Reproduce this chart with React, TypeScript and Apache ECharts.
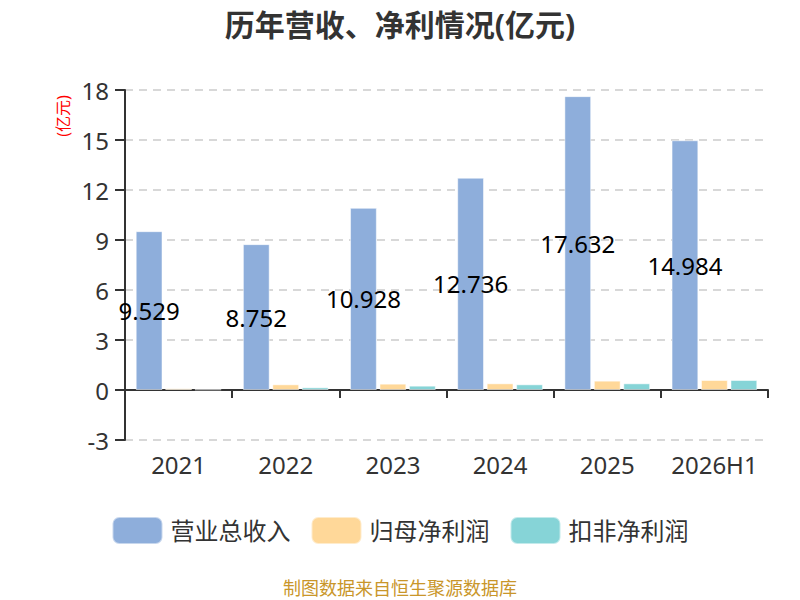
import React, { useEffect, useRef } from "react";
import * as echarts from "echarts";

const categories = ["2021", "2022", "2023", "2024", "2025", "2026H1"];
const revenue = [9.529, 8.752, 10.928, 12.736, 17.632, 14.984];
const netProfit = [0.1, 0.34, 0.38, 0.4, 0.56, 0.6];
const deductedProfit = [0.03, 0.16, 0.26, 0.34, 0.4, 0.6];
const seriesNames = ["营业总收入", "归母净利润", "扣非净利润"];
const colors = ["#8EAEDB", "#FFD899", "#86D4D7"];

export default function App() {
  const ref = useRef<HTMLDivElement>(null);
  useEffect(() => {
    document.body.style.margin = "0";
    if (!ref.current) return;
    const chart = echarts.init(ref.current, null, { renderer: "svg" });
    const font = "'Noto Sans', 'Noto Sans CJK SC', sans-serif";
    chart.setOption({
      animation: false,
      textStyle: { fontFamily: font },
      title: {
        text: "历年营收、净利情况(亿元)",
        left: "center",
        top: 4,
        textStyle: { fontSize: 30, fontWeight: "bold", color: "#333", fontFamily: font },
      },
      legend: {
        data: seriesNames,
        bottom: 50,
        left: "center",
        itemWidth: 50,
        itemHeight: 27,
        itemGap: 20,
        icon: "roundRect",
        textStyle: { fontSize: 24, color: "#333", fontFamily: font, padding: [0, 0, 0, 3] },
      },
      graphic: [
        {
          type: "text",
          left: "center",
          top: 579,
          style: { text: "制图数据来自恒生聚源数据库", fill: "#C9962A", fontSize: 18, fontFamily: font },
        },
        {
          type: "text",
          x: 63,
          y: 116,
          rotation: Math.PI / 2,
          style: { text: "(亿元)", fill: "#ff0000", fontSize: 16, fontFamily: font, align: "center", verticalAlign: "middle" },
        },
      ],
      grid: { left: 125, right: 32, top: 90, bottom: 160, containLabel: false },
      xAxis: {
        type: "category",
        data: categories,
        axisLine: { onZero: true, lineStyle: { color: "#333", width: 2 } },
        axisTick: { show: true, interval: 0, length: 8, lineStyle: { color: "#333", width: 2 } },
        axisLabel: { interval: 0, fontSize: 24, color: "#333", margin: 12, fontFamily: font },
      },
      yAxis: {
        type: "value",
        min: -3,
        max: 18,
        interval: 3,
        axisLine: { show: true, lineStyle: { color: "#333", width: 2 } },
        axisTick: { show: true, length: 10, lineStyle: { color: "#333", width: 2 } },
        axisLabel: { fontSize: 24, color: "#333", margin: 16, fontFamily: font },
        splitLine: { lineStyle: { type: [8, 6], color: "#ccc", width: 1.5 } },
      },
      series: [
        {
          name: seriesNames[0],
          type: "bar",
          data: revenue,
          barGap: "10%",
          barCategoryGap: "20%",
          itemStyle: { color: colors[0], borderColor: "rgba(255,255,255,0.5)", borderWidth: 1 },
          label: {
            show: true,
            position: "inside",
            color: "#000",
            fontSize: 24,
            fontFamily: font,
            formatter: (p: any) => String(p.value),
          },
        },
        {
          name: seriesNames[1],
          type: "bar",
          data: netProfit,
          barGap: "10%",
          itemStyle: { color: colors[1], borderColor: "rgba(255,255,255,0.5)", borderWidth: 1 },
        },
        {
          name: seriesNames[2],
          type: "bar",
          data: deductedProfit,
          barGap: "10%",
          itemStyle: { color: colors[2], borderColor: "rgba(255,255,255,0.5)", borderWidth: 1 },
        },
      ],
    });
    return () => chart.dispose();
  }, []);
  return <div ref={ref} style={{ width: 800, height: 600 }} />;
}
